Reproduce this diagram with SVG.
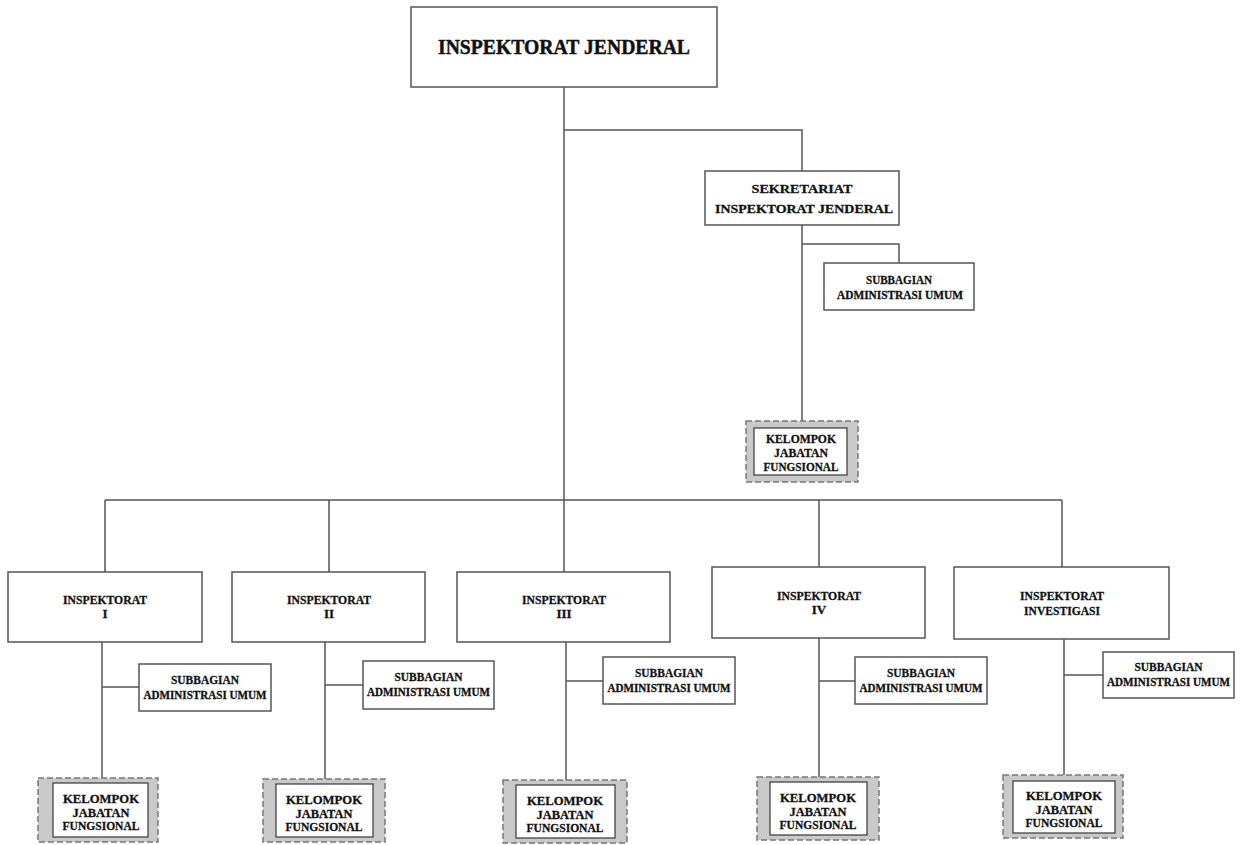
<svg xmlns="http://www.w3.org/2000/svg" width="1242" height="845" viewBox="0 0 1242 845">
<style>
.box{fill:#fff;stroke:#555;stroke-width:1.5}
.kout{fill:#c9c9c9;stroke:#777;stroke-width:1.5;stroke-dasharray:6,3}
.kin{fill:#fff;stroke:#444;stroke-width:1.3}
.ln{fill:none;stroke:#555;stroke-width:1.5}
text{font-family:"Liberation Serif","DejaVu Serif",serif;font-weight:bold;fill:#111;stroke:#111;stroke-width:0.3;text-anchor:middle}
.t18{font-size:22px;stroke-width:0.5}
.t13{font-size:13.5px}
.t10{font-size:13px}
.adm{font-size:11.5px}
</style>
<rect width="1242" height="845" fill="#fff"/>
<g id="connectors">
<path class="ln" d="M564,87 V500 M564,130 H802 V171 M802,225 V421 M802,244 H899 V263"/>
<path class="ln" d="M105,500 H1062 M105,500 V572 M329,500 V572 M564,500 V572 M819,500 V567 M1062,500 V567"/>
<path class="ln" d="M102,642 V778 M102,687 H139"/>
<path class="ln" d="M325,642 V779 M325,685 H363"/>
<path class="ln" d="M566,642 V780 M566,681 H603"/>
<path class="ln" d="M819,638 V777 M819,681 H855"/>
<path class="ln" d="M1064,639 V775 M1064,675 H1103"/>
</g>
<g id="irjen"><rect class="box" x="411" y="7" width="306" height="80"/><text class="t18" x="564" y="54" textLength="252" lengthAdjust="spacingAndGlyphs">INSPEKTORAT JENDERAL</text></g>
<g id="sekretariat"><rect class="box" x="705" y="171" width="194" height="54"/><text class="t13" x="802" y="192.5" textLength="101" lengthAdjust="spacingAndGlyphs">SEKRETARIAT</text><text class="t13" x="804" y="212.5" textLength="178" lengthAdjust="spacingAndGlyphs">INSPEKTORAT JENDERAL</text></g>
<g id="sekr-subbag"><rect class="box" x="824" y="263" width="150" height="47"/><text class="t10" x="899" y="283.5" textLength="66" lengthAdjust="spacingAndGlyphs">SUBBAGIAN</text><text class="t10 adm" x="900" y="298.5" textLength="126" lengthAdjust="spacingAndGlyphs">ADMINISTRASI UMUM</text></g>
<g id="sekr-kjf"><rect class="kout" x="746" y="421" width="112" height="61"/><rect class="kin" x="754" y="428" width="93" height="47"/><text class="t10" x="801" y="442.5" textLength="70" lengthAdjust="spacingAndGlyphs">KELOMPOK</text><text class="t10" x="801" y="457" textLength="54" lengthAdjust="spacingAndGlyphs">JABATAN</text><text class="t10" x="801" y="471" textLength="75" lengthAdjust="spacingAndGlyphs">FUNGSIONAL</text></g>

<g id="insp1"><rect class="box" x="8" y="572" width="194" height="70"/><text class="t10" x="105" y="603.5" textLength="84" lengthAdjust="spacingAndGlyphs">INSPEKTORAT</text><text class="t10" x="105" y="618">I</text></g>
<g id="insp1-subbag"><rect class="box" x="139" y="664" width="132" height="47"/><text class="t10" x="205" y="683.5" textLength="68" lengthAdjust="spacingAndGlyphs">SUBBAGIAN</text><text class="t10 adm" x="205" y="698.5" textLength="123" lengthAdjust="spacingAndGlyphs">ADMINISTRASI UMUM</text></g>
<g id="insp1-kjf"><rect class="kout" x="38" y="778" width="120" height="64"/><rect class="kin" x="53" y="783" width="95" height="54"/><text class="t10" x="101" y="802.5" textLength="76" lengthAdjust="spacingAndGlyphs">KELOMPOK</text><text class="t10" x="101" y="816.5" textLength="57" lengthAdjust="spacingAndGlyphs">JABATAN</text><text class="t10" x="101" y="830" textLength="77" lengthAdjust="spacingAndGlyphs">FUNGSIONAL</text></g>

<g id="insp2"><rect class="box" x="232" y="572" width="193" height="70"/><text class="t10" x="329" y="603.5" textLength="84" lengthAdjust="spacingAndGlyphs">INSPEKTORAT</text><text class="t10" x="329" y="618">II</text></g>
<g id="insp2-subbag"><rect class="box" x="363" y="661" width="131" height="48"/><text class="t10" x="428.5" y="681" textLength="68" lengthAdjust="spacingAndGlyphs">SUBBAGIAN</text><text class="t10 adm" x="428.5" y="696" textLength="123" lengthAdjust="spacingAndGlyphs">ADMINISTRASI UMUM</text></g>
<g id="insp2-kjf"><rect class="kout" x="263" y="779" width="122" height="63"/><rect class="kin" x="276" y="784" width="97" height="53"/><text class="t10" x="324" y="803.5" textLength="76" lengthAdjust="spacingAndGlyphs">KELOMPOK</text><text class="t10" x="324" y="817.5" textLength="57" lengthAdjust="spacingAndGlyphs">JABATAN</text><text class="t10" x="324" y="831" textLength="77" lengthAdjust="spacingAndGlyphs">FUNGSIONAL</text></g>

<g id="insp3"><rect class="box" x="457" y="572" width="213" height="70"/><text class="t10" x="564" y="603.5" textLength="84" lengthAdjust="spacingAndGlyphs">INSPEKTORAT</text><text class="t10" x="564" y="618">III</text></g>
<g id="insp3-subbag"><rect class="box" x="603" y="657" width="132" height="47"/><text class="t10" x="669" y="677" textLength="68" lengthAdjust="spacingAndGlyphs">SUBBAGIAN</text><text class="t10 adm" x="669" y="692" textLength="123" lengthAdjust="spacingAndGlyphs">ADMINISTRASI UMUM</text></g>
<g id="insp3-kjf"><rect class="kout" x="503" y="780" width="124" height="63"/><rect class="kin" x="516" y="785" width="99" height="53"/><text class="t10" x="565" y="804.5" textLength="76" lengthAdjust="spacingAndGlyphs">KELOMPOK</text><text class="t10" x="565" y="818.5" textLength="57" lengthAdjust="spacingAndGlyphs">JABATAN</text><text class="t10" x="565" y="832" textLength="77" lengthAdjust="spacingAndGlyphs">FUNGSIONAL</text></g>

<g id="insp4"><rect class="box" x="712" y="567" width="213" height="71"/><text class="t10" x="819" y="599.5" textLength="84" lengthAdjust="spacingAndGlyphs">INSPEKTORAT</text><text class="t10" x="819" y="614">IV</text></g>
<g id="insp4-subbag"><rect class="box" x="855" y="657" width="132" height="47"/><text class="t10" x="921" y="677" textLength="68" lengthAdjust="spacingAndGlyphs">SUBBAGIAN</text><text class="t10 adm" x="921" y="692" textLength="123" lengthAdjust="spacingAndGlyphs">ADMINISTRASI UMUM</text></g>
<g id="insp4-kjf"><rect class="kout" x="757" y="777" width="122" height="63"/><rect class="kin" x="770" y="782" width="97" height="53"/><text class="t10" x="818" y="801.5" textLength="76" lengthAdjust="spacingAndGlyphs">KELOMPOK</text><text class="t10" x="818" y="815.5" textLength="57" lengthAdjust="spacingAndGlyphs">JABATAN</text><text class="t10" x="818" y="829" textLength="77" lengthAdjust="spacingAndGlyphs">FUNGSIONAL</text></g>

<g id="investigasi"><rect class="box" x="954" y="567" width="215" height="72"/><text class="t10" x="1062" y="599.5" textLength="84" lengthAdjust="spacingAndGlyphs">INSPEKTORAT</text><text class="t10" x="1062" y="614.5" textLength="76" lengthAdjust="spacingAndGlyphs">INVESTIGASI</text></g>
<g id="investigasi-subbag"><rect class="box" x="1103" y="652" width="131" height="46"/><text class="t10" x="1168.5" y="671" textLength="68" lengthAdjust="spacingAndGlyphs">SUBBAGIAN</text><text class="t10 adm" x="1168.5" y="686" textLength="123" lengthAdjust="spacingAndGlyphs">ADMINISTRASI UMUM</text></g>
<g id="investigasi-kjf"><rect class="kout" x="1003" y="775" width="120" height="63"/><rect class="kin" x="1013" y="781" width="102" height="52"/><text class="t10" x="1064" y="799.5" textLength="76" lengthAdjust="spacingAndGlyphs">KELOMPOK</text><text class="t10" x="1064" y="813.5" textLength="57" lengthAdjust="spacingAndGlyphs">JABATAN</text><text class="t10" x="1064" y="827" textLength="77" lengthAdjust="spacingAndGlyphs">FUNGSIONAL</text></g>
</svg>
